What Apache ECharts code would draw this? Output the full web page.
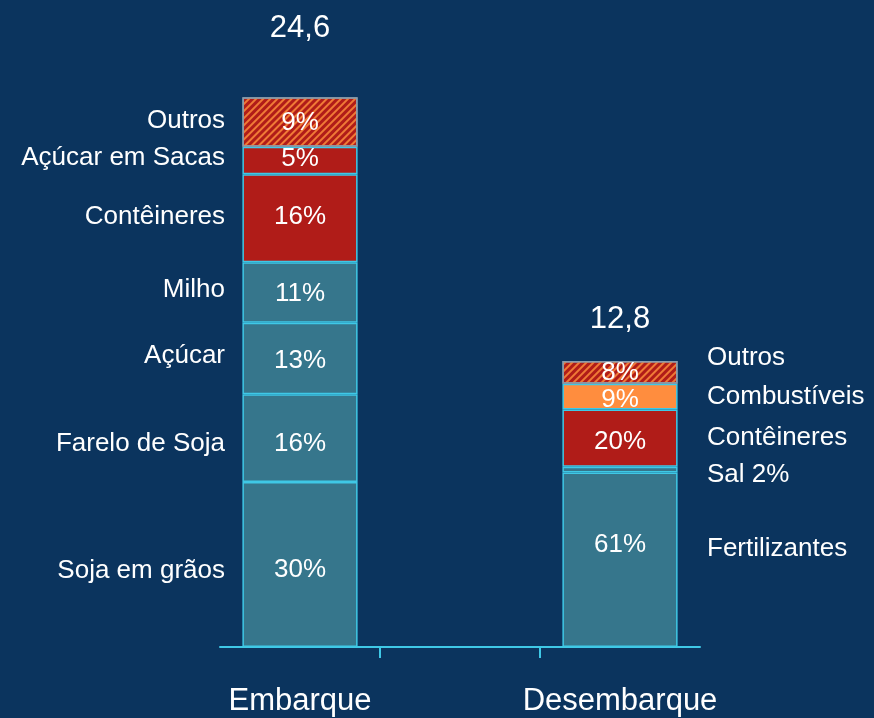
<!DOCTYPE html>
<html>
<head>
<meta charset="utf-8">
<script src="https://cdn.jsdelivr.net/npm/echarts@6/dist/echarts.min.js"></script>
<style>
  html, body { margin: 0; padding: 0; background: #0b345e; }
  #chart { width: 874px; height: 718px; }
</style>
</head>
<body>
<div id="chart"></div>
<script>
// data
const categories = ['Embarque', '', 'Desembarque']
const totals = [24.6, 12.8]
const embarqueNames = ['Soja em grãos', 'Farelo de Soja', 'Açúcar', 'Milho', 'Contêineres', 'Açúcar em Sacas', 'Outros']
const embarquePct = [30, 16, 13, 11, 16, 5, 9]
const desembarqueNames = ['Fertilizantes', 'Sal 2%', 'Contêineres', 'Combustíveis', 'Outros']
const desembarquePct = [61, 2, 20, 9, 8]
const tickValues = [1, 2]

// styles
const TEAL = '#36768c'
const RED = '#b01c18'
const ORANGE = '#ff8d3e'
const CYAN = '#3fc8e6'
const FONT = 'Liberation Sans, Arial, sans-serif'
const embarqueKinds = ['teal', 'teal', 'teal', 'teal', 'red', 'red', 'hatch']
const desembarqueKinds = ['teal', 'teal', 'red', 'orange', 'hatch']
// small label nudges (px) so text sits where the original put it
const embarqueNameDy = [6, 6, -3, -3, -1, -3, -1]
const embarquePctDy = [5, 6, 2, 1, -1, -2, 1]
const desembarqueNameDy = [-11, 5, 0, 0, -15]
const desembarquePctDy = [-15, 0, 4, 3, 0]

function itemStyleFor (kind) {
  if (kind === 'teal') return { color: TEAL, borderColor: CYAN, borderWidth: 1.5 }
  if (kind === 'red') return { color: RED, borderColor: CYAN, borderWidth: 1.5 }
  if (kind === 'orange') return { color: ORANGE, borderColor: CYAN, borderWidth: 1.5 }
  return {
    color: RED,
    borderColor: '#8a9cab',
    borderWidth: 1.5,
    decal: {
      symbol: 'rect',
      symbolSize: 1,
      dashArrayX: [[1, 0]],
      dashArrayY: [2, 3],
      rotation: -Math.PI / 4,
      color: '#f07a36'
    }
  }
}

function segmentSeries (names, pct, kinds, total, catIndex, pctDy, prefix) {
  return names.map((name, i) => {
    const data = categories.map(() => '-')
    data[catIndex] = total * pct[i] / 100
    return {
      name: prefix + name,
      type: 'bar',
      stack: 'total',
      barCategoryGap: '28%',
      data: data,
      itemStyle: itemStyleFor(kinds[i]),
      label: {
        show: name !== 'Sal 2%',
        position: 'inside',
        offset: [0, pctDy[i]],
        formatter: pct[i] + '%',
        color: '#ffffff',
        textBorderWidth: 0,
        fontSize: 26,
        fontFamily: FONT
      }
    }
  })
}

function nameSeries (names, pct, total, catIndex, dy, side, dist) {
  let acc = 0
  const data = names.map((name, i) => {
    const mid = total * (acc + pct[i] / 2) / 100
    acc += pct[i]
    return { value: [catIndex, mid], name: name, label: { offset: [0, dy[i]] } }
  })
  return {
    type: 'scatter',
    symbolSize: 0,
    data: data,
    silent: true,
    itemStyle: { opacity: 1 },
    label: {
      show: true,
      position: side,
      distance: dist,
      formatter: p => p.name,
      color: '#ffffff',
      textBorderWidth: 0,
      fontSize: 26,
      fontFamily: FONT
    }
  }
}

const chart = echarts.init(document.getElementById('chart'))

const series = [].concat(
  segmentSeries(embarqueNames, embarquePct, embarqueKinds, totals[0], 0, embarquePctDy, 'E '),
  segmentSeries(desembarqueNames, desembarquePct, desembarqueKinds, totals[1], 2, desembarquePctDy, 'D ')
)
series.push(nameSeries(embarqueNames, embarquePct, totals[0], 0, embarqueNameDy, 'left', 75))
series.push(nameSeries(desembarqueNames, desembarquePct, totals[1], 2, desembarqueNameDy, 'right', 87))
series.push({
  type: 'scatter',
  symbolSize: 0,
  silent: true,
  itemStyle: { opacity: 1 },
  data: [
    { value: totals[0], label: { distance: 53 } },
    '-',
    { value: totals[1], label: { distance: 26 } }
  ],
  label: {
    show: true,
    position: 'top',
    formatter: p => p.value.toFixed(1).replace('.', ','),
    color: '#ffffff',
    textBorderWidth: 0,
    fontSize: 31,
    fontFamily: FONT
  }
})

chart.setOption({
  backgroundColor: '#0b345e',
  animation: false,
  grid: { left: 220, right: 174, top: 66, bottom: 71 },
  xAxis: [
    {
      type: 'category',
      data: categories,
      position: 'bottom',
      axisLine: { lineStyle: { color: CYAN, width: 2 } },
      axisTick: { show: false },
      axisLabel: { color: '#ffffff', fontSize: 31, fontFamily: FONT, margin: 39 }
    },
    {
      type: 'value',
      min: 0,
      max: 3,
      position: 'bottom',
      axisLine: { show: false },
      axisLabel: { show: false },
      splitLine: { show: false },
      axisTick: { show: true, length: 11, customValues: tickValues, lineStyle: { color: CYAN, width: 2 } }
    }
  ],
  yAxis: { type: 'value', min: 0, max: 26, show: false },
  series: series
})
</script>
</body>
</html>
